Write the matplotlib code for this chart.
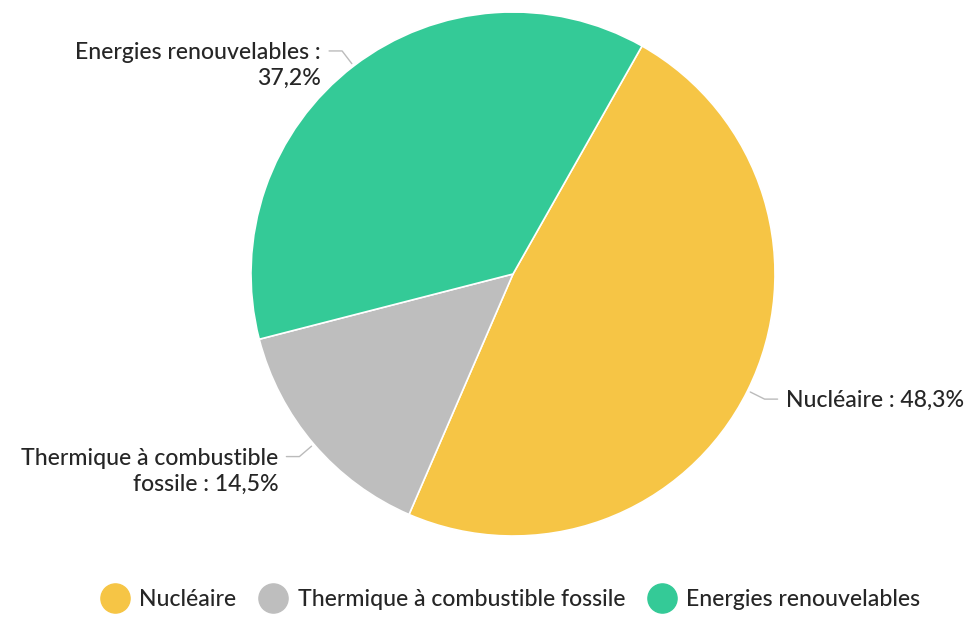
import numpy as np
import matplotlib
matplotlib.use("Agg")
import matplotlib.pyplot as plt
from matplotlib.lines import Line2D

# donnees
categories = ["Nucléaire", "Thermique à combustible fossile", "Energies renouvelables"]
lignes_etiquettes = [["Nucléaire : {}"],
                     ["Thermique à combustible", "fossile : {}"],
                     ["Energies renouvelables :", "{}"]]
valeurs = [48.3, 14.5, 37.2]
couleurs = ["#F6C545", "#BEBEBE", "#34CA97"]

plt.rcParams["font.family"] = ["Lato", "DejaVu Sans"]
plt.rcParams["font.weight"] = "medium"

W, H = 968, 624
fig = plt.figure(figsize=(W / 100, H / 100), dpi=100)
ax = fig.add_axes([0, 0, 1, 1])

# centre et rayon en pixels (axe y vers le haut)
cx, cy, r = 513, H - 274, 262

wedges, _ = ax.pie(
    valeurs,
    colors=couleurs,
    startangle=60.5,
    counterclock=False,
    center=(cx, cy),
    radius=r,
    wedgeprops=dict(edgecolor="white", linewidth=1.2),
)
ax.set_xlim(0, W)
ax.set_ylim(0, H)
ax.set_aspect("equal")
ax.axis("off")

# etiquettes avec lignes de rappel
for w, lignes, v in zip(wedges, lignes_etiquettes, valeurs):
    ang = np.deg2rad((w.theta1 + w.theta2) / 2)
    c, s = np.cos(ang), np.sin(ang)
    x0, y0 = cx + (r + 3) * c, cy + (r + 3) * s
    x1, y1 = cx + (r + 19) * c, cy + (r + 19) * s
    sens = 1 if c > 0 else -1
    x2 = x1 + sens * 13
    ax.plot([x0, x1, x2], [y0, y1, y1], color="#BBBBBB", lw=1, solid_capstyle="round")
    pct = f"{v:.1f}%".replace(".", ",")
    for i, ligne in enumerate(lignes):
        ax.text(x2 + sens * 8, y1 - 8 - 26 * i, ligne.format(pct),
                ha="left" if sens > 0 else "right", va="baseline",
                fontsize=16.6, color="#262626")

# legende
poignees = [Line2D([], [], ls="", marker="o", markersize=21, markerfacecolor=c,
                   markeredgecolor=c) for c in couleurs]
fig.legend(poignees, categories, loc="center", ncol=3, frameon=False,
           bbox_to_anchor=(512 / W, 1 - 600 / H), fontsize=16.6,
           handlelength=1.0, handletextpad=0.55, columnspacing=1.1,
           labelcolor="#262626")

fig.savefig("out.png", dpi=100, facecolor="white")
